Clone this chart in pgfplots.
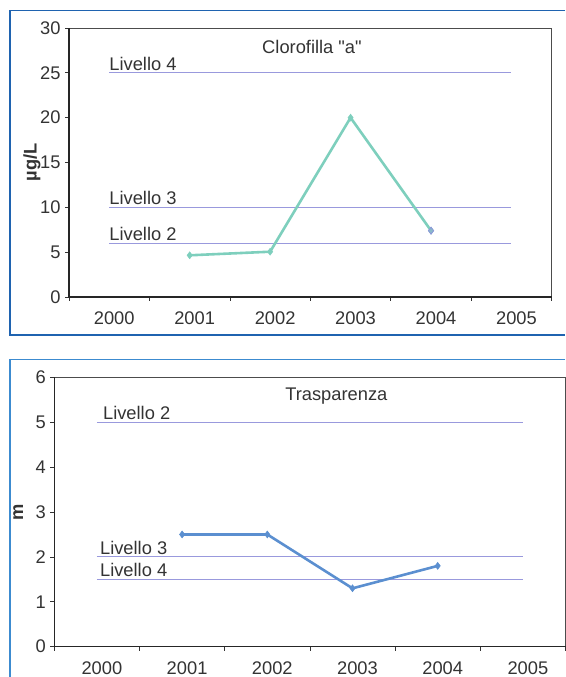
\documentclass[border=0pt]{standalone}
\usepackage{pgfplots}
\pgfplotsset{compat=1.18}
\usepackage{fontspec}
\setmainfont{Liberation Sans}
\newfontfamily\plainq{Liberation Sans}
\definecolor{teal1}{HTML}{7ECFBD}
\definecolor{blue1}{HTML}{5B8FD0}
\definecolor{lav}{HTML}{9999DD}
\definecolor{frame1}{HTML}{1F63B0}
\definecolor{frame2}{HTML}{3C8BD0}
\definecolor{txt}{HTML}{333333}
\pgfplotsset{
  panel/.style={
    scale only axis,
    anchor=south west,
    xmin=-0.5, xmax=5.5,
    axis line style={draw=black!70, line width=0.7pt},
    xtick={-0.5,0.5,1.5,2.5,3.5,4.5,5.5},
    xticklabels={},
    extra x ticks={0,1,2,3,4,5},
    extra x tick labels={2000,2001,2002,2003,2004,2005},
    extra x tick style={tick style={draw=none}},
    tick align=outside,
    major tick length=4pt,
    tick style={black!80, line width=0.7pt},
    xtick pos=bottom, ytick pos=left,
    /pgf/number format/assume math mode=true,
    tick label style={font=\fontsize{18.3}{20}\selectfont, text=txt},
    xticklabel style={xshift=5pt, yshift=-7pt},
    yticklabel style={xshift=-1pt},
    clip=false,
  },
}
\tikzset{
  lbl/.style={anchor=south west, inner sep=0, text=txt, font=\fontsize{18.3}{20}\selectfont, yshift=2pt},
  ylab/.style={anchor=center, inner sep=0, text=txt, font=\fontsize{18.3}{20}\selectfont\bfseries},
}
\begin{document}
\begin{tikzpicture}[x=1pt,y=1pt]
\path[use as bounding box] (0,0) rectangle (565,677);
% frames
\draw[frame1, line width=1.5pt] (565,666.7) -- (10,666.7) -- (10,342) -- (565,342);
\draw[frame2, line width=1.5pt] (565,317.7) -- (10,317.7) -- (10,-2);

\begin{axis}[panel, at={(69pt,380pt)}, width=482.7pt, height=269pt,
  ymin=0, ymax=30, ytick={0,5,...,30}]
  \draw[black!85, line width=1.4pt] (rel axis cs:0,1) -- (rel axis cs:0,0) -- (rel axis cs:1,0);
  \addplot[lav, line width=1pt] coordinates {(0,25) (5,25)};
  \addplot[lav, line width=1pt] coordinates {(0,10) (5,10)};
  \addplot[lav, line width=1pt] coordinates {(0,6) (5,6)};
  \node[lbl] at (axis cs:0,25) {Livello 4};
  \node[lbl] at (axis cs:0,10) {Livello 3};
  \node[lbl] at (axis cs:0,6) {Livello 2};
  \node[anchor=base, inner sep=0, text=txt, font=\fontsize{18.3}{20}\plainq] at (axis cs:2.52,27.2) {Clorofilla "a"};
  \node[ylab, xshift=-37pt, rotate=90] at (rel axis cs:0,0.5) {µg/L};
  \addplot[teal1, line width=2.6pt, mark=diamond*, mark size=3.5pt, mark options={line width=0.5pt}] coordinates {(1,4.65) (2,5.05) (3,20.0) (4,7.4)};
  \addplot[only marks, mark=diamond*, mark size=3.5pt, draw=lav!80!blue1, fill=teal1!60!lav, line width=0.8pt] coordinates {(4,7.4)};
\end{axis}

\begin{axis}[panel, at={(54.3pt,30.3pt)}, width=511.2pt, height=269.4pt,
  ymin=0, ymax=6, ytick={0,1,...,6}]
  \draw[black!85, line width=1.4pt] (rel axis cs:0,1) -- (rel axis cs:0,0) -- (rel axis cs:1,0);
  \addplot[lav, line width=1pt] coordinates {(0,5) (5,5)};
  \addplot[lav, line width=1pt] coordinates {(0,2) (5,2)};
  \addplot[lav, line width=1pt] coordinates {(0,1.5) (5,1.5)};
  \node[lbl, xshift=6pt] at (axis cs:0,5) {Livello 2};
  \node[lbl, xshift=3pt] at (axis cs:0,2) {Livello 3};
  \node[lbl, xshift=3pt] at (axis cs:0,1.5) {Livello 4};
  \node[anchor=base, inner sep=0, text=txt, font=\fontsize{18.3}{20}\selectfont] at (axis cs:2.81,5.49) {Trasparenza};
  \node[ylab, xshift=-36pt, rotate=90] at (rel axis cs:0,0.5) {m};
  \addplot[blue1, line width=2.6pt, mark=diamond*, mark size=3.5pt, mark options={line width=0.5pt}] coordinates {(1,2.5) (2,2.5) (3,1.3) (4,1.8)};
\end{axis}
\end{tikzpicture}
\end{document}
